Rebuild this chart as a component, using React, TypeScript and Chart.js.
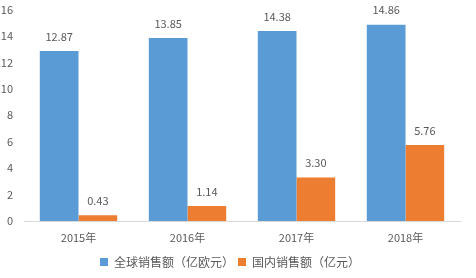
import React, { useEffect, useRef } from "react";
import { Chart, registerables } from "chart.js";

Chart.register(...registerables);

const categories = ["2015年", "2016年", "2017年", "2018年"];
const globalSales = [12.87, 13.85, 14.38, 14.86];
const domesticSales = [0.43, 1.14, 3.3, 5.76];
const seriesNames = ["全球销售额（亿欧元）", "国内销售额（亿元）"];
const yTicks = [0, 2, 4, 6, 8, 10, 12, 14, 16];

const FONT = "'Noto Sans CJK SC', 'Noto Sans', sans-serif";
const TEXT = "#595959";

const labelPlugin = {
  id: "barLabels",
  afterDatasetsDraw(chart: any) {
    const ctx = chart.ctx;
    ctx.save();
    ctx.font = `11px ${FONT}`;
    ctx.fillStyle = TEXT;
    ctx.textAlign = "center";
    ctx.textBaseline = "bottom";
    chart.data.datasets.forEach((ds: any, i: number) => {
      const meta = chart.getDatasetMeta(i);
      meta.data.forEach((bar: any, j: number) => {
        ctx.fillText(Number(ds.data[j]).toFixed(2), bar.x, bar.y - 9);
      });
    });
    ctx.restore();
  },
};

export default function App() {
  const ref = useRef<HTMLCanvasElement | null>(null);
  useEffect(() => {
    document.body.style.margin = "0";
    const chart = new Chart(ref.current!, {
      type: "bar",
      data: {
        labels: categories,
        datasets: [
          { label: seriesNames[0], data: globalSales, backgroundColor: "#5b9bd5" },
          { label: seriesNames[1], data: domesticSales, backgroundColor: "#ed7d31" },
        ],
      },
      options: {
        animation: false,
        responsive: false,
        maintainAspectRatio: false,
        layout: { padding: { top: 3, right: 16, left: 0, bottom: 0 } },
        datasets: { bar: { categoryPercentage: 0.71, barPercentage: 1 } },
        plugins: {
          legend: {
            position: "bottom",
            labels: {
              boxWidth: 8,
              boxHeight: 8,
              padding: 4,
              color: TEXT,
              font: { family: FONT, size: 12 },
            },
          },
          tooltip: { enabled: false },
        },
        scales: {
          x: {
            grid: { display: false },
            border: { display: true, color: "#d9d9d9" },
            ticks: { color: TEXT, font: { family: FONT, size: 11 }, padding: 2 },
            afterFit: (axis: any) => {
              axis.height = 31;
            },
          },
          y: {
            min: 0,
            max: 16,
            afterBuildTicks: (axis: any) => {
              axis.ticks = yTicks.map((v) => ({ value: v }));
            },
            afterFit: (axis: any) => {
              axis.width = 24;
            },
            grid: { display: false },
            border: { display: false },
            ticks: { color: TEXT, font: { family: FONT, size: 11 }, padding: 3 },
          },
        },
      },
      plugins: [labelPlugin],
    });
    return () => chart.destroy();
  }, []);
  return (
    <div style={{ width: 476, height: 278, background: "#fff" }}>
      <canvas ref={ref} width={476} height={278} />
    </div>
  );
}
